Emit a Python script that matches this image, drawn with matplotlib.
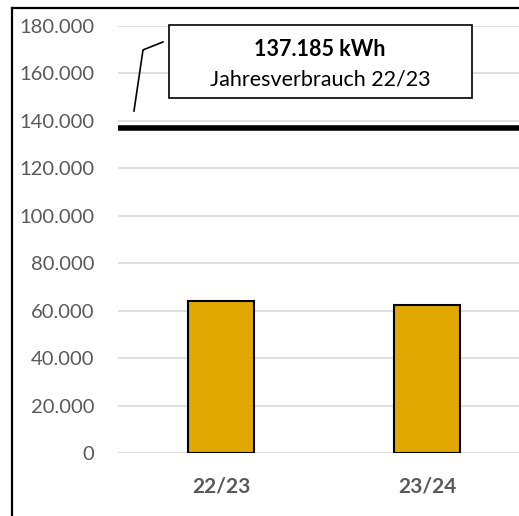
import numpy as np
import matplotlib.pyplot as plt
from matplotlib.patches import Rectangle
from matplotlib.lines import Line2D

# Daten
kategorien = ["22/23", "23/24"]
verbrauch = [64000, 62400]
jahresverbrauch = 137185
box_titel = "137.185 kWh"
box_text = "Jahresverbrauch 22/23"
y_ticks = [0, 20000, 40000, 60000, 80000, 100000, 120000, 140000, 160000, 180000]

plt.rcParams['font.family'] = ['Lato', 'DejaVu Sans']
grau = "#595959"

fig = plt.figure(figsize=(5.19, 5.16), dpi=100)
ax = fig.add_axes([118/519, 63/516, 412/519, 427/516])

x = np.arange(len(kategorien))
ax.bar(x, verbrauch, width=0.32, color="#E0A800", edgecolor="black", linewidth=1.5, zorder=3)
ax.axhline(jahresverbrauch, color="black", linewidth=4, zorder=4)

ax.set_xlim(-0.5, 1.5)
ax.set_ylim(0, 180000)
ax.set_yticks(y_ticks)
ax.set_yticklabels([f"{v:,}".replace(",", ".") for v in y_ticks])
ax.set_xticks(x)
ax.set_xticklabels(kategorien, fontweight="bold")
ax.tick_params(axis="y", length=0, pad=17, labelsize=14.5, labelcolor=grau)
ax.tick_params(axis="x", length=0, pad=17, labelsize=15, labelcolor=grau)
ax.grid(axis="y", color="#d9d9d9", linewidth=1.2, zorder=0)
for s in ax.spines.values():
    s.set_visible(False)

# Beschriftung mit Kasten
ax.add_patch(Rectangle((0.1238, 0.8314), 0.735, 0.171, transform=ax.transAxes,
                       facecolor="white", edgecolor="black", linewidth=1.2, zorder=5, clip_on=False))
ax.text(0.49, 0.946, box_titel, transform=ax.transAxes, ha="center", va="center",
        fontsize=15.5, fontweight="bold", color="black", zorder=6)
ax.text(0.49, 0.875, box_text, transform=ax.transAxes, ha="center", va="center",
        fontsize=15.5, color="black", zorder=6)
ax.plot([0.0388, 0.0607, 0.109], [0.801, 0.944, 0.9625], transform=ax.transAxes,
        color="black", linewidth=1.2, zorder=5, clip_on=False)

# Rahmen um das Diagramm
links = 12/519
oben = 1 - 8/516
fig.add_artist(Line2D([links, links], [0, oben], transform=fig.transFigure, color="black", linewidth=1.6))
fig.add_artist(Line2D([links, 1], [oben, oben], transform=fig.transFigure, color="black", linewidth=1.6))

fig.savefig("out.png", dpi=100)
